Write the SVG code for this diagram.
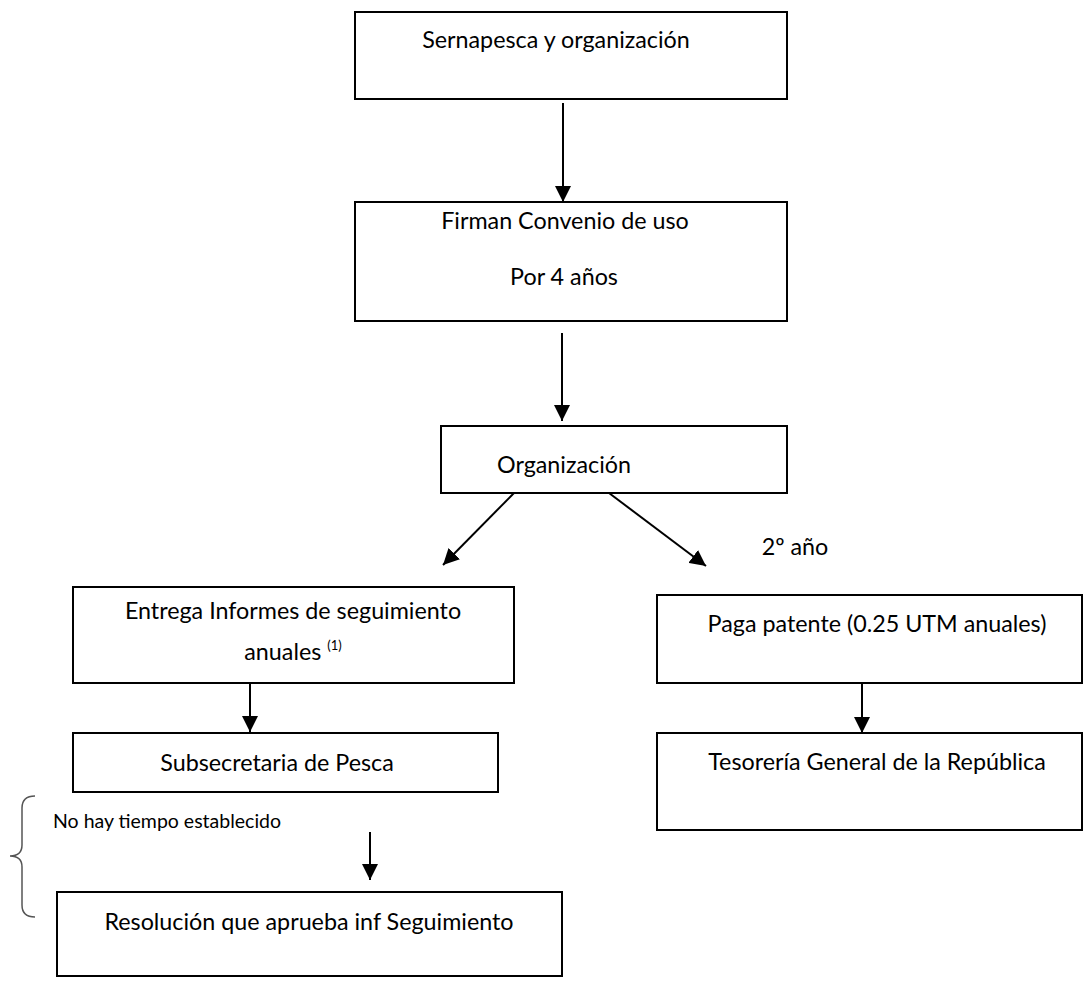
<svg xmlns="http://www.w3.org/2000/svg" width="1084" height="984" viewBox="0 0 1084 984">
<style>
.box{fill:#fff;stroke:#000;stroke-width:2}
.t{font-family:Lato,"Open Sans","Liberation Sans",sans-serif;font-size:23.3px;fill:#000;text-anchor:middle}
.s{font-family:Lato,"Open Sans","Liberation Sans",sans-serif;font-size:19.5px;fill:#000}
.c{stroke:#000;stroke-width:2;fill:none;marker-end:url(#ah)}
</style>
<defs>
<marker id="ah" markerWidth="8" markerHeight="8" viewBox="0 0 8 8" refX="8" refY="4" orient="auto" markerUnits="strokeWidth">
<path d="M0,0 L8,4 L0,8 Z" fill="#000"/>
</marker>
</defs>
<rect width="1084" height="984" fill="#fff"/>
<g id="connectors">
<line class="c" x1="563" y1="103" x2="563" y2="202"/>
<line class="c" x1="562" y1="333" x2="562" y2="421"/>
<line class="c" x1="514" y1="493" x2="443" y2="565"/>
<line class="c" x1="609" y1="493" x2="706" y2="566"/>
<line class="c" x1="250" y1="683" x2="250" y2="732"/>
<line class="c" x1="862" y1="683" x2="862" y2="733"/>
<line class="c" x1="370" y1="832" x2="370" y2="880"/>
</g>
<g id="n1"><rect class="box" x="355" y="12" width="432" height="87"/><text class="t" x="556" y="48">Sernapesca y organización</text></g>
<g id="n2"><rect class="box" x="355" y="202" width="432" height="119"/><text class="t" x="565" y="229">Firman Convenio de uso</text><text class="t" x="564" y="285">Por 4 años</text></g>
<g id="n3"><rect class="box" x="441" y="426" width="346" height="67"/><text class="t" x="564" y="473">Organización</text></g>
<g id="n4"><rect class="box" x="73" y="587" width="441" height="96"/><text class="t" x="293" y="619">Entrega Informes de seguimiento</text><text class="t" x="293" y="660">anuales <tspan font-size="13" dy="-10">(1)</tspan></text></g>
<g id="n5"><rect class="box" x="73" y="733" width="425" height="59"/><text class="t" x="277" y="771">Subsecretaria de Pesca</text></g>
<g id="n6"><rect class="box" x="657" y="595" width="425" height="88"/><text class="t" x="877" y="632">Paga patente (0.25 UTM anuales)</text></g>
<g id="n7"><rect class="box" x="657" y="733" width="425" height="97"/><text class="t" x="877" y="770">Tesorería General de la República</text></g>
<g id="n8"><rect class="box" x="57" y="892" width="505" height="84"/><text class="t" x="309" y="930">Resolución que aprueba inf Seguimiento</text></g>
<g id="labels">
<text class="t" x="795" y="555">2º año</text>
<text class="s" x="53" y="828">No hay tiempo establecido</text>
<path d="M35,796 Q22,796 22,808 L22,845 Q22,856 10,856 Q22,856 22,867 L22,905 Q22,917 35,917" fill="none" stroke="#555" stroke-width="1.5"/>
</g>
</svg>
